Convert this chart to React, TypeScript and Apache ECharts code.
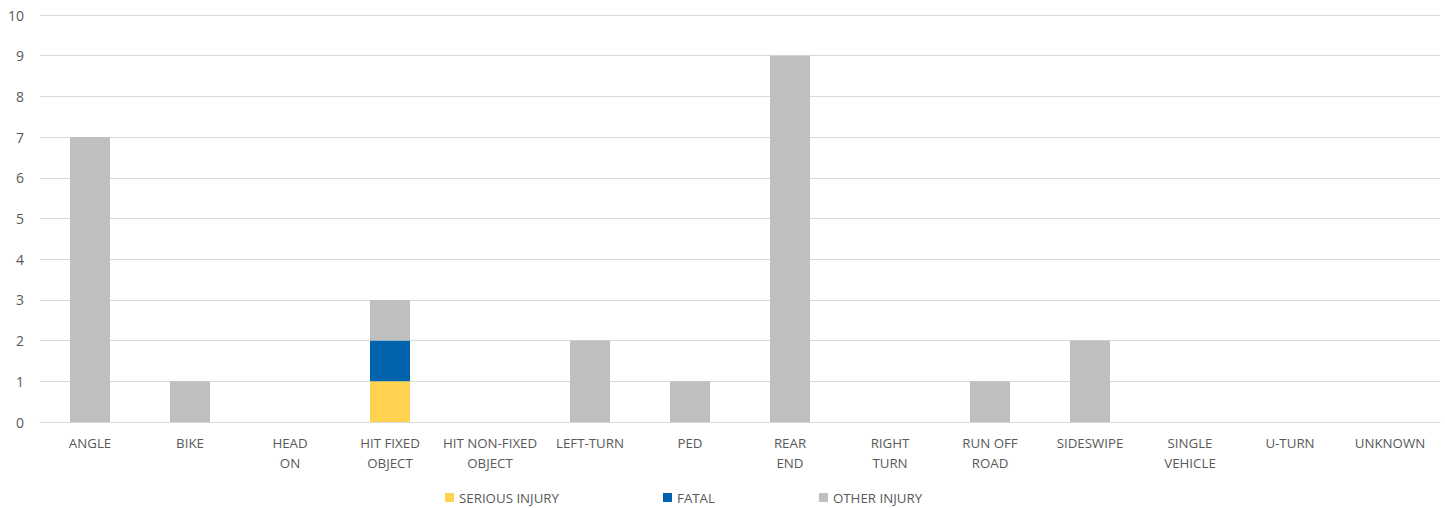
import React, { useEffect, useRef } from "react";
import * as echarts from "echarts";

const categories = [
  "ANGLE",
  "BIKE",
  "HEAD\nON",
  "HIT FIXED\nOBJECT",
  "HIT NON-FIXED\nOBJECT",
  "LEFT-TURN",
  "PED",
  "REAR\nEND",
  "RIGHT\nTURN",
  "RUN OFF\nROAD",
  "SIDESWIPE",
  "SINGLE\nVEHICLE",
  "U-TURN",
  "UNKNOWN",
];
const seriousInjury = [0, 0, 0, 1, 0, 0, 0, 0, 0, 0, 0, 0, 0, 0];
const fatal = [0, 0, 0, 1, 0, 0, 0, 0, 0, 0, 0, 0, 0, 0];
const otherInjury = [7, 1, 0, 1, 0, 2, 1, 9, 0, 1, 2, 0, 0, 0];

const FONT = "'Open Sans', 'Noto Sans', sans-serif";
const TEXT = "#595959";

export default function App() {
  const ref = useRef<HTMLDivElement>(null);
  useEffect(() => {
    document.body.style.margin = "0";
    const chart = echarts.init(ref.current!, null, { renderer: "svg" });
    chart.setOption({
      animation: false,
      grid: { left: 40, right: 5, top: 15, bottom: 86, containLabel: false },
      legend: {
        top: 491,
        left: 445,
        padding: 0,
        itemWidth: 9,
        itemHeight: 9,
        itemGap: 104,
        icon: "rect",
        textStyle: { color: TEXT, fontSize: 13.3, fontFamily: FONT },
        data: ["SERIOUS INJURY", "FATAL", "OTHER INJURY"],
      },
      xAxis: {
        type: "category",
        data: categories,
        axisLine: { lineStyle: { color: "#D9D9D9" } },
        axisTick: { show: false },
        axisLabel: {
          color: TEXT,
          fontSize: 13.3,
          fontFamily: FONT,
          margin: 11,
          lineHeight: 20,
          interval: 0,
        },
      },
      yAxis: {
        type: "value",
        min: 0,
        max: 10,
        interval: 1,
        axisLine: { show: false },
        axisTick: { show: false },
        splitLine: { lineStyle: { color: "#D9D9D9", width: 1 } },
        axisLabel: { color: TEXT, fontSize: 14, fontFamily: FONT, margin: 16 },
      },
      series: [
        {
          name: "SERIOUS INJURY",
          type: "bar",
          stack: "total",
          barWidth: "40%",
          data: seriousInjury,
          itemStyle: { color: "#FFD24F" },
        },
        {
          name: "FATAL",
          type: "bar",
          stack: "total",
          barWidth: "40%",
          data: fatal,
          itemStyle: { color: "#0063AB" },
        },
        {
          name: "OTHER INJURY",
          type: "bar",
          stack: "total",
          barWidth: "40%",
          data: otherInjury,
          itemStyle: { color: "#BFBFBF" },
        },
      ],
    });
    return () => chart.dispose();
  }, []);
  return <div ref={ref} style={{ width: 1445, height: 508 }} />;
}
